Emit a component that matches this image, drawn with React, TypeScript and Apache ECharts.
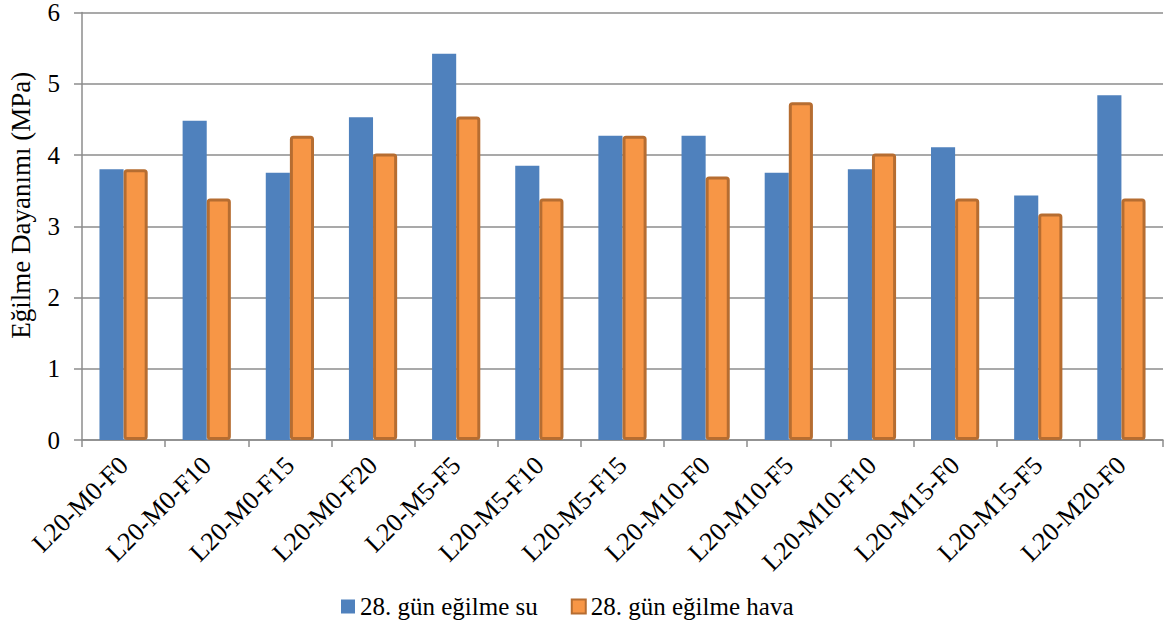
import React, { useEffect, useRef } from "react";
import * as echarts from "echarts";

const categories = [
  "L20-M0-F0",
  "L20-M0-F10",
  "L20-M0-F15",
  "L20-M0-F20",
  "L20-M5-F5",
  "L20-M5-F10",
  "L20-M5-F15",
  "L20-M10-F0",
  "L20-M10-F5",
  "L20-M10-F10",
  "L20-M15-F0",
  "L20-M15-F5",
  "L20-M20-F0",
];

const waterValues = [3.8, 4.48, 3.75, 4.53, 5.42, 3.85, 4.27, 4.27, 3.75, 3.8, 4.11, 3.43, 4.84];
const airValues = [3.8, 3.39, 4.27, 4.02, 4.54, 3.39, 4.27, 3.7, 4.74, 4.02, 3.39, 3.18, 3.39];

const seriesNames = ["28. gün eğilme su", "28. gün eğilme hava"];
const yAxisTitle = "Eğilme Dayanımı (MPa)";

const FONT = "'Times New Roman', 'Liberation Serif', serif";
const GRID_COLOR = "#8c8c8c";

export default function App() {
  const ref = useRef<HTMLDivElement>(null);

  useEffect(() => {
    if (!ref.current) return;
    const chart = echarts.init(ref.current, null, { renderer: "svg" });
    chart.setOption({
      animation: false,
      backgroundColor: "#ffffff",
      textStyle: { fontFamily: FONT, color: "#000" },
      grid: {
        left: 82,
        right: 3,
        top: 12.5,
        bottom: 186,
        containLabel: false,
        outerBoundsMode: "none",
      },
      legend: {
        top: 589,
        left: 336,
        icon: "rect",
        itemWidth: 14,
        itemHeight: 14,
        itemGap: 33,
        textStyle: { fontFamily: FONT, fontSize: 25, color: "#000" },
        data: seriesNames,
      },
      xAxis: {
        type: "category",
        data: categories,
        axisLine: { lineStyle: { color: GRID_COLOR, width: 1.5 } },
        axisTick: { show: true, alignWithLabel: false, length: 7, lineStyle: { color: GRID_COLOR, width: 1.5 } },
        axisLabel: {
          rotate: 45,
          interval: 0,
          margin: 21,
          fontFamily: FONT,
          fontSize: 26,
          color: "#000",
        },
      },
      yAxis: {
        type: "value",
        min: 0,
        max: 6,
        interval: 1,
        name: yAxisTitle,
        nameLocation: "middle",
        nameGap: 48,
        nameRotate: 90,
        nameTextStyle: { fontFamily: FONT, fontSize: 27, color: "#000", padding: [0, 0, 0, 42] },
        axisLine: { show: true, lineStyle: { color: GRID_COLOR, width: 1.5 } },
        axisTick: { show: true, length: 8, lineStyle: { color: GRID_COLOR, width: 1.5 } },
        axisLabel: { fontFamily: FONT, fontSize: 25, color: "#000", margin: 22 },
        splitLine: { lineStyle: { color: GRID_COLOR, width: 1.5 } },
      },
      series: [
        {
          name: seriesNames[0],
          type: "bar",
          data: waterValues,
          barCategoryGap: "42%",
          barGap: "0%",
          itemStyle: { color: "#4f81bd" },
        },
        {
          name: seriesNames[1],
          type: "bar",
          data: airValues,
          itemStyle: { color: "#f79646", borderColor: "#b66d31", borderWidth: 3, borderRadius: 2 },
        },
      ],
    });
    return () => chart.dispose();
  }, []);

  return (
    <div
      ref={ref}
      style={{ position: "fixed", left: 0, top: 0, width: 1166, height: 626, background: "#fff" }}
    />
  );
}
